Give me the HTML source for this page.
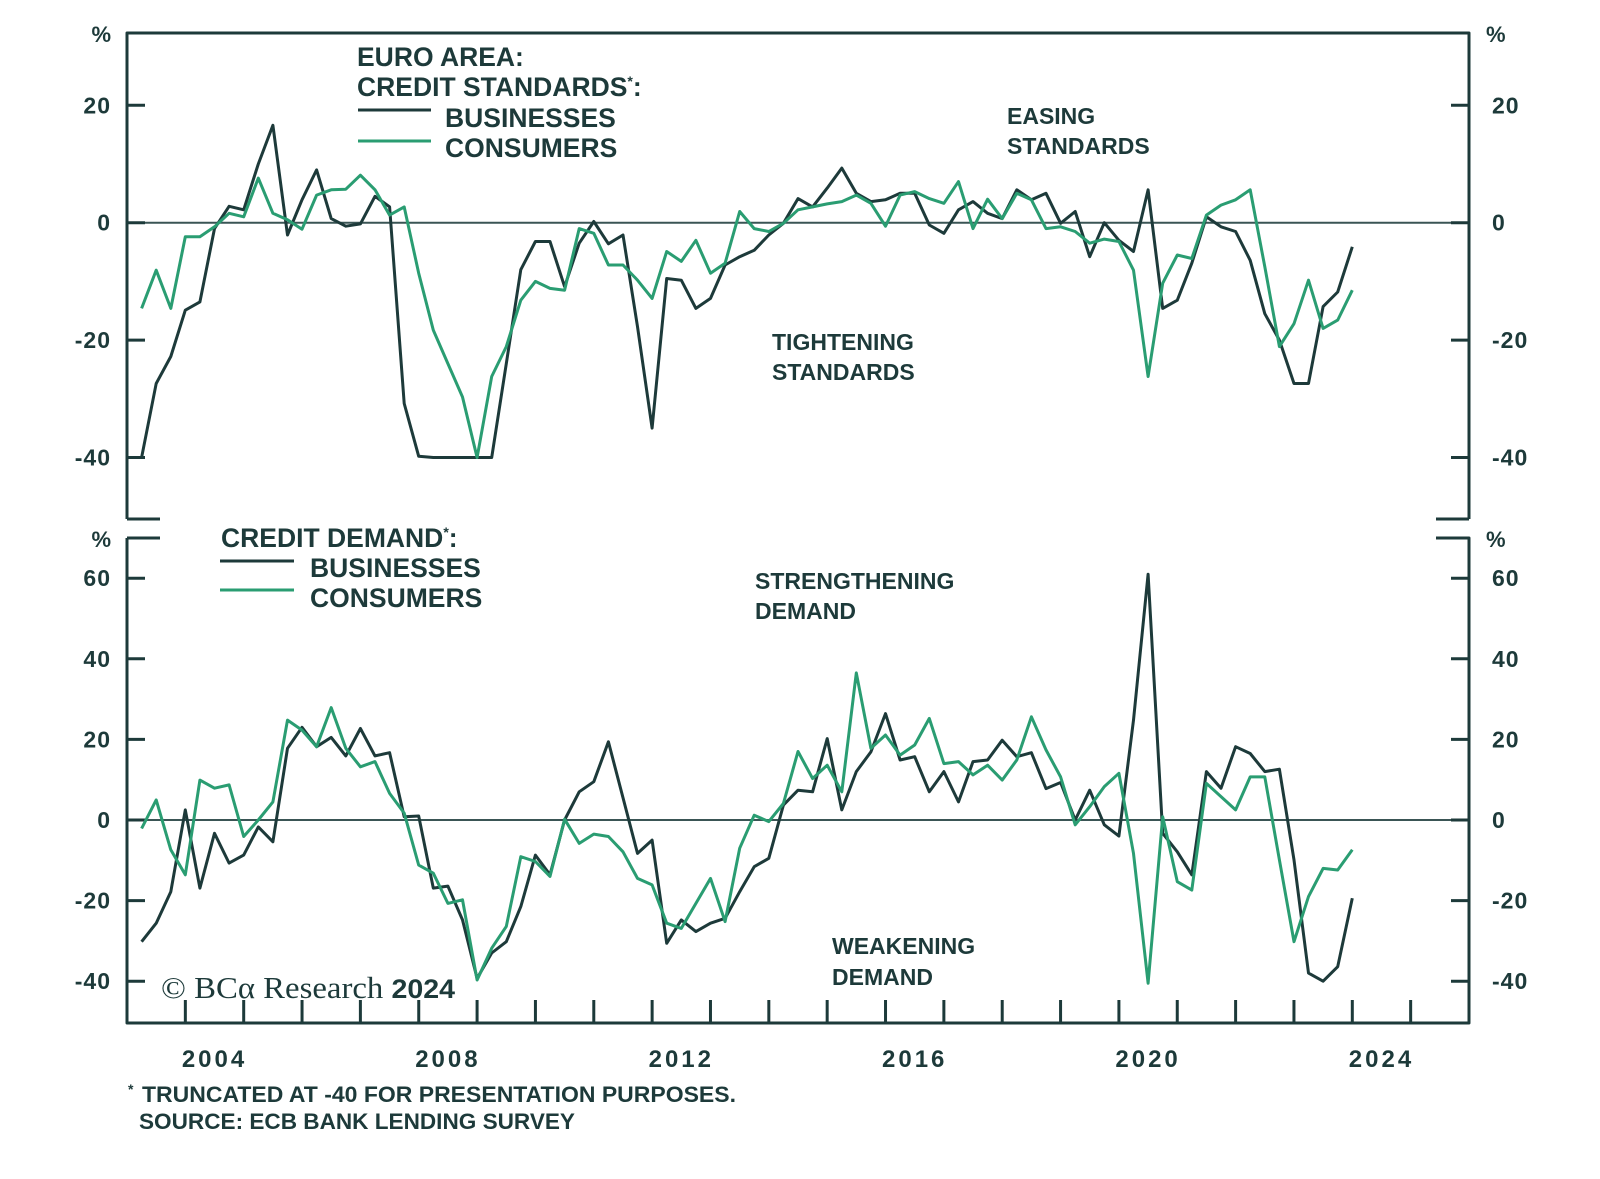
<!DOCTYPE html>
<html><head><meta charset="utf-8"><style>
html,body{margin:0;padding:0;background:#fff;}
svg{display:block;font-family:"Liberation Sans",Arial,sans-serif;}
.t{fill:#1d3a3a;font-weight:bold;}
</style></head><body>
<svg id="chart" width="1600" height="1179" viewBox="0 0 1600 1179" xmlns="http://www.w3.org/2000/svg">
<g id="frame" stroke="#1d3a3a" stroke-width="3" fill="none"></g>
<g id="marks"></g>
<g id="labels"></g>
<text class="t" x="357" y="66" font-size="26.5">EURO AREA:</text>
<text class="t" x="357" y="96" font-size="26.5">CREDIT STANDARDS<tspan font-size="14" dy="-10">*</tspan><tspan dy="10">:</tspan></text>
<line x1="358" y1="110" x2="431" y2="110" stroke="#1d3a3a" stroke-width="3"/>
<line x1="358" y1="141" x2="431" y2="141" stroke="#2a9d72" stroke-width="3"/>
<text class="t" x="445" y="127" font-size="26.5">BUSINESSES</text>
<text class="t" x="445" y="157" font-size="26.5">CONSUMERS</text>
<text class="t" x="1007" y="124" font-size="23">EASING</text>
<text class="t" x="1007" y="154" font-size="23">STANDARDS</text>
<text class="t" x="772" y="350" font-size="23">TIGHTENING</text>
<text class="t" x="772" y="380" font-size="23">STANDARDS</text>
<text class="t" x="221" y="547" font-size="26.5">CREDIT DEMAND<tspan font-size="14" dy="-10">*</tspan><tspan dy="10">:</tspan></text>
<line x1="220" y1="561" x2="294" y2="561" stroke="#1d3a3a" stroke-width="3"/>
<line x1="220" y1="590" x2="294" y2="590" stroke="#2a9d72" stroke-width="3"/>
<text class="t" x="310" y="577" font-size="26.5">BUSINESSES</text>
<text class="t" x="310" y="607" font-size="26.5">CONSUMERS</text>
<text class="t" x="755" y="589" font-size="23">STRENGTHENING</text>
<text class="t" x="755" y="619" font-size="23">DEMAND</text>
<text class="t" x="832" y="954" font-size="23">WEAKENING</text>
<text class="t" x="832" y="985" font-size="23">DEMAND</text>
<text x="161" y="998" font-size="31" fill="#1d3a3a" font-family="Liberation Serif, serif" textLength="294" lengthAdjust="spacingAndGlyphs">© BCα Research <tspan font-family="Liberation Sans, sans-serif" font-weight="bold" font-size="27">2024</tspan></text>
<text class="t" x="128" y="1094" font-size="14">*</text>
<text class="t" x="142" y="1102" font-size="22" textLength="594" lengthAdjust="spacingAndGlyphs">TRUNCATED AT -40 FOR PRESENTATION PURPOSES.</text>
<text class="t" x="139" y="1129" font-size="22" textLength="436" lengthAdjust="spacingAndGlyphs">SOURCE: ECB BANK LENDING SURVEY</text>
</svg>
<script>
const stdBusinesses = [-40,-40,-27.4,-22.8,-14.9,-13.5,-1,2.8,2.2,10,16.6,-2.1,3.9,9,0.7,-0.6,-0.2,4.5,2.7,-30.8,-39.8,-40,-40,-40,-40,-40,-24,-8,-3.2,-3.2,-10.9,-3.5,0.2,-3.6,-2.1,-17.7,-35,-9.5,-9.8,-14.6,-12.9,-7.2,-5.8,-4.7,-2.1,-0.1,4.1,2.7,5.9,9.3,5,3.6,3.9,5,5,-0.4,-1.8,2.2,3.6,1.6,0.7,5.6,3.9,5,-0.1,1.9,-5.8,0,-3,-4.9,5.6,-14.6,-13.2,-6.9,1,-0.7,-1.5,-6.4,-15.5,-20,-27.4,-27.4,-14.3,-11.8,-4.1];
const stdConsumers = [null,-14.6,-8.1,-14.6,-2.4,-2.4,-0.7,1.6,1,7.6,1.6,0.5,-1.1,4.7,5.6,5.7,8.1,5.6,1.3,2.7,-8.6,-18.3,-24,-29.7,-40,-26.2,-21.1,-13.2,-10,-11.2,-11.5,-1,-1.8,-7.2,-7.2,-9.8,-12.9,-4.9,-6.6,-3,-8.6,-6.9,1.9,-1,-1.5,-0.1,2.2,2.7,3.2,3.6,4.7,3.3,-0.6,4.7,5.3,4.1,3.3,7,-1,4,0.7,5,3.9,-1,-0.7,-1.5,-3.5,-2.8,-3.2,-8.1,-26.2,-10.3,-5.5,-6.1,1.3,3,3.9,5.6,-7.5,-21.1,-17.2,-9.8,-18,-16.6,-11.5];
const demBusinesses = [null,-30.2,-25.6,-17.8,2.5,-16.9,-3.3,-10.7,-8.7,-1.7,-5.4,17.8,23,18.2,20.5,15.9,22.7,15.9,16.7,0.8,1,-16.9,-16.4,-24.8,-39.3,-33,-30.2,-21.5,-8.7,-13.6,0,7,9.5,19.4,5.5,-8.3,-5,-30.6,-24.8,-27.7,-25.6,-24.4,-17.8,-11.6,-9.5,3.7,7.4,7,20.2,2.5,12,16.9,26.4,14.9,15.7,7,12,4.5,14.5,14.9,19.8,15.7,16.7,7.8,9.3,0,7.4,-1.2,-4,24.8,61,-3.3,-7.9,-13.6,12,7.9,18.2,16.5,12,12.6,-9.9,-38,-40,-36.4,-19.4];
const demConsumers = [null,-2.1,5,-7.4,-13.6,9.9,7.9,8.7,-4.1,0,4.5,24.8,22.3,18.2,27.9,17.8,13.2,14.5,6.6,1.7,-11.2,-13.2,-20.7,-19.8,-39.7,-31.8,-26.4,-9.1,-10.3,-14,0.2,-5.8,-3.5,-4.1,-7.9,-14.5,-16.1,-25.6,-26.9,-20.7,-14.5,-25.2,-7,1.2,-0.4,4.1,17,10.3,13.6,7,36.5,17.8,21.1,16.1,18.6,25.2,14,14.5,11.2,13.6,9.9,14.9,25.6,17.4,10.7,-1.2,3.3,8.3,11.6,-8.3,-40.5,0.8,-15.3,-17.4,9.1,5.8,2.5,10.7,10.7,-9.9,-30.2,-19,-12,-12.4,-7.4];
const topTicks = [20,0,-20,-40];
const bottomTicks = [60,40,20,0,-20,-40];
const yearLabels = [2004,2008,2012,2016,2020,2024];
const startYear = 2003;

const NS="http://www.w3.org/2000/svg";
const L=127,R=1469,yrW=(R-L)/23;
const xT=t=>L+(t-startYear)*yrW;
const xQ=i=>xT(startYear+0.25*i);
const yTop=v=>222.7-v*5.87;
const yBot=v=>820-v*4.03;
const DARK="#1d3a3a",GREEN="#2a9d72";
function mk(tag,attrs,parent){const e=document.createElementNS(NS,tag);for(const k in attrs)e.setAttribute(k,attrs[k]);parent.appendChild(e);return e;}
const frame=document.getElementById('frame'),marks=document.getElementById('marks'),labels=document.getElementById('labels');

function addPath(d,name,parent,stroke,w){const p=mk('path',{d:d,stroke:stroke,'stroke-width':w,fill:'none','stroke-linejoin':'round'},parent);


return p;}
addPath(`M${L},519 L${L},33 L${R},33 L${R},519 M${L},519 L160,519 M${R},519 L1436,519`,'top-panel-frame',frame,DARK,3);
addPath(`M${L},538 L160,538 M${L},538 L${L},1023 L${R},1023 L${R},538 L1436,538`,'bottom-panel-frame',frame,DARK,3);
addPath(`M${L},${yTop(0)} L${R},${yTop(0)}`,'top-zero-line',frame,'#3a5555',2);
addPath(`M${L},${yBot(0)} L${R},${yBot(0)}`,'bottom-zero-line',frame,'#3a5555',2);

function tickLbl(txt,x,y,anchor,name,fs,ls){const t=mk('text',{x:x,y:y,'text-anchor':anchor,'font-size':fs||23,'font-weight':'bold',fill:DARK,'letter-spacing':ls||1},labels);t.textContent=txt;

}
topTicks.forEach(v=>{const y=yTop(v);
addPath(`M${L},${y} L${L+18},${y} M${R},${y} L${R-18},${y}`,'top-y-tick',frame,DARK,3);
tickLbl(String(v),111,y+8,'end','top-left-y-label');tickLbl(String(v),1492,y+8,'start','top-right-y-label');});
bottomTicks.forEach(v=>{const y=yBot(v);
addPath(`M${L},${y} L${L+18},${y} M${R},${y} L${R-18},${y}`,'bottom-y-tick',frame,DARK,3);
tickLbl(String(v),111,y+8,'end','bottom-left-y-label');tickLbl(String(v),1492,y+8,'start','bottom-right-y-label');});
tickLbl('%',112,42,'end','top-left-unit',22,0);tickLbl('%',1486,42,'start','top-right-unit',22,0);
tickLbl('%',112,547,'end','bottom-left-unit',22,0);tickLbl('%',1486,547,'start','bottom-right-unit',22,0);
for(let y=startYear+1;y<=startYear+22;y++){addPath(`M${xT(y)},1023 L${xT(y)},1000`,'x-tick',frame,DARK,3);}
yearLabels.forEach(y=>tickLbl(String(y),xT(y+0.5),1067,'middle','x-axis-label',24,3));

function series(arr,yf,color,name){let d='';let pen=false;arr.forEach((v,i)=>{if(v===null){pen=false;return;}d+=(pen?'L':'M')+xQ(i).toFixed(1)+','+yf(v).toFixed(1)+' ';pen=true;});
addPath(d,name,marks,color,3);}
series(stdBusinesses,yTop,DARK,'standards-businesses-line');
series(stdConsumers,yTop,GREEN,'standards-consumers-line');
series(demBusinesses,yBot,DARK,'demand-businesses-line');
series(demConsumers,yBot,GREEN,'demand-consumers-line');
</script>
</body></html>
